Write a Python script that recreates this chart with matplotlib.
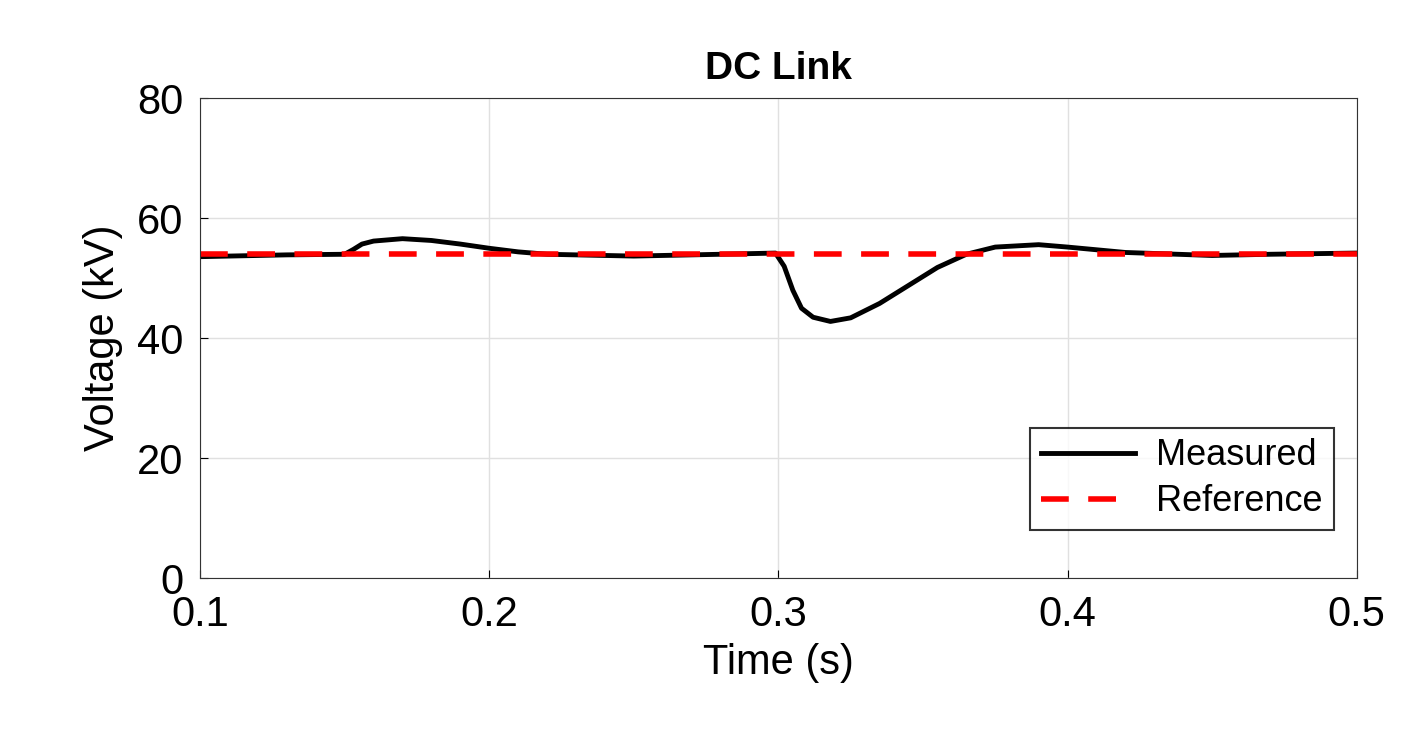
import matplotlib
matplotlib.use("Agg")
import matplotlib.pyplot as plt

t = [0.1, 0.13, 0.15, 0.153, 0.156, 0.16, 0.17, 0.18, 0.19, 0.2, 0.21, 0.22, 0.25, 0.28, 0.299,
     0.302, 0.305, 0.308, 0.312, 0.318, 0.325, 0.335, 0.345, 0.355, 0.365, 0.375, 0.39,
     0.4, 0.42, 0.45, 0.47, 0.5]
measured = [53.6, 53.9, 54.0, 54.8, 55.7, 56.2, 56.6, 56.3, 55.7, 55.0, 54.4, 54.0, 53.7, 54.0, 54.2,
            52.0, 48.0, 45.0, 43.5, 42.8, 43.4, 45.8, 48.8, 51.8, 54.0, 55.2, 55.6,
            55.2, 54.3, 53.8, 54.0, 54.2]
ref_t = [0.1, 0.5]
reference = [54.0, 54.0]

plt.rcParams['font.family'] = ['Liberation Sans', 'DejaVu Sans']
fig = plt.figure(figsize=(14.03, 7.45), dpi=100)
ax = fig.add_axes([0.1426, 0.224, 0.8244, 0.644])
ax.plot(t, measured, color='black', lw=3.5, label='Measured')
ax.plot(ref_t, reference, color='red', lw=4, ls=(0, (5, 3.5)), label='Reference')
ax.set_xlim(0.1, 0.5)
ax.set_ylim(0, 80)
ax.set_xticks([0.1, 0.2, 0.3, 0.4, 0.5])
ax.set_yticks([0, 20, 40, 60, 80])
ax.grid(True, color='#e0e0e0', lw=1)
ax.tick_params(labelsize=30, direction='in', length=6, pad=12)
ax.set_xlabel('Time (s)', fontsize=30, labelpad=6)
ax.set_ylabel('Voltage (kV)', fontsize=30, labelpad=10)
ax.set_title('DC Link', fontsize=28, fontweight='bold', pad=14)
for s in ax.spines.values():
    s.set_color('#333333')
leg = ax.legend(loc='lower right', fontsize=26, fancybox=False, edgecolor='black',
                handlelength=2.6, borderaxespad=0, bbox_to_anchor=(0.98, 0.1),
                labelspacing=0.3, borderpad=0.3, handletextpad=0.6)
leg.get_frame().set_linewidth(1.5)
fig.savefig('out.png', dpi=100)
